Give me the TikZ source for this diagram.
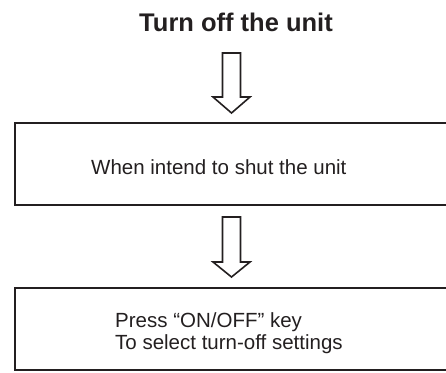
\documentclass[tikz,border=0pt]{standalone}
\usepackage{fontspec}
\setmainfont{Liberation Sans}
\definecolor{ink}{RGB}{35,31,32}
\begin{document}
\begin{tikzpicture}[x=1pt,y=-1pt,
  boxstyle/.style={draw=ink,line width=2.2pt,inner sep=0pt,anchor=north west},
  blockarrow/.style={draw=ink,line width=1.6pt,line join=miter,fill=white},
  bodytext/.style={text=ink,inner sep=0pt,font=\fontsize{20.5}{22}\selectfont},
  titletext/.style={text=ink,inner sep=0pt,font=\fontsize{25.5}{28}\selectfont\bfseries}]
\useasboundingbox (0,0) rectangle (446,372);
% title
\node[titletext,anchor=base] (title) at (236,31) {Turn off the unit};
% boxes
\node[boxstyle,minimum width=450pt,minimum height=82pt] (b1) at (14,122) {};
\node[boxstyle,minimum width=450pt,minimum height=82pt] (b2) at (14,287) {};
% texts
\node[bodytext,anchor=base west] (t1) at (91,174) {When intend to shut the unit};
\node[bodytext,anchor=base west,align=left] (t2) at (115,349) {Press “ON/OFF” key\\To select turn-off settings};
% arrows
\coordinate (a1tip) at (231.5,113);
\coordinate (a2tip) at (231.5,277);
\draw[blockarrow] (a1tip) -- ++(-18.5,-16) -- ++(9.5,0) -- ++(0,-44) -- ++(18,0) -- ++(0,44) -- ++(9.5,0) -- cycle;
\draw[blockarrow] (a2tip) -- ++(-18.5,-15) -- ++(9.5,0) -- ++(0,-45) -- ++(18,0) -- ++(0,45) -- ++(9.5,0) -- cycle;
\end{tikzpicture}
\end{document}
